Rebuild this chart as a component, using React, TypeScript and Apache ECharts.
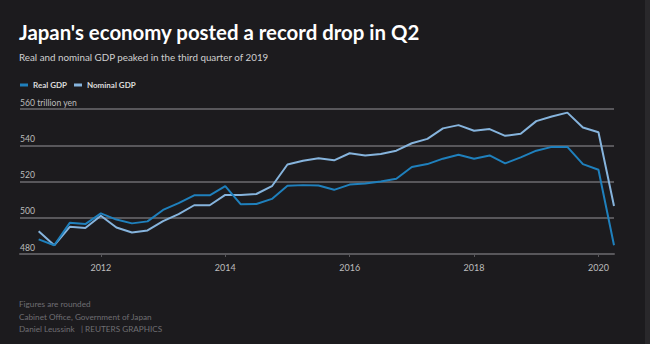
import React, { useEffect, useRef } from "react";
import * as echarts from "echarts";

const quarters = [
  "2011Q1","2011Q2","2011Q3","2011Q4",
  "2012Q1","2012Q2","2012Q3","2012Q4",
  "2013Q1","2013Q2","2013Q3","2013Q4",
  "2014Q1","2014Q2","2014Q3","2014Q4",
  "2015Q1","2015Q2","2015Q3","2015Q4",
  "2016Q1","2016Q2","2016Q3","2016Q4",
  "2017Q1","2017Q2","2017Q3","2017Q4",
  "2018Q1","2018Q2","2018Q3","2018Q4",
  "2019Q1","2019Q2","2019Q3","2019Q4",
  "2020Q1","2020Q2",
];

const realGDP = [
  488.1, 484.8, 497.2, 496.5,
  502.4, 499.0, 496.9, 498.0,
  504.3, 508.1, 512.4, 512.4,
  517.4, 507.4, 507.6, 510.4,
  517.6, 518.0, 517.8, 515.4,
  518.3, 518.9, 520.0, 521.5,
  528.0, 529.6, 532.6, 534.8,
  532.6, 534.4, 530.0, 533.3,
  537.0, 539.1, 539.1, 529.6,
  526.5, 484.8,
];

const nominalGDP = [
  492.6, 484.8, 495.0, 494.3,
  501.1, 494.6, 491.9, 493.0,
  498.1, 502.0, 506.9, 506.9,
  512.6, 512.6, 513.1, 517.4,
  529.4, 531.5, 532.8, 531.7,
  535.6, 534.4, 535.2, 537.0,
  541.1, 543.5, 549.3, 551.1,
  548.0, 548.9, 545.2, 546.3,
  553.3, 555.9, 558.0, 549.8,
  547.2, 506.5,
];

const yearTicks = [2012, 2014, 2016, 2018, 2020];
const yTicks = [480, 500, 520, 540, 560];

const TITLE = "Japan's economy posted a record drop in Q2";
const SUBTITLE = "Real and nominal GDP peaked in the third quarter of 2019";
const FOOTNOTES = [
  "Figures are rounded",
  "Cabinet Office, Government of Japan",
  "Daniel Leussink   | REUTERS GRAPHICS",
];

const BG = "#1c1b1e";
const REAL_COLOR = "#1f80bd";
const NOMINAL_COLOR = "#86b4dd";
const GRID_COLOR = "#58575b";
const FONT = "Lato, 'Noto Sans', sans-serif";

function quarterToX(q: string): number {
  const y = parseInt(q.slice(0, 4), 10);
  const n = parseInt(q.slice(5), 10);
  return y + (n - 1) / 4;
}

export default function App() {
  const ref = useRef<HTMLDivElement | null>(null);

  useEffect(() => {
    document.body.style.margin = "0";
    document.body.style.background = BG;
    if (!ref.current) return;
    const chart = echarts.init(ref.current, undefined, { renderer: "svg" });
    const xs = quarters.map(quarterToX);
    chart.setOption({
      animation: false,
      backgroundColor: BG,
      textStyle: { fontFamily: FONT },
      grid: { left: 20, right: 36, top: 109, bottom: 90, containLabel: false },
      legend: {
        left: 15,
        top: 76,
        itemWidth: 8,
        itemHeight: 3,
        itemGap: 7,
        icon: "rect",
        textStyle: { color: "#dcdcdc", fontSize: 8, fontWeight: "bold", fontFamily: FONT },
        data: [
          { name: "Real GDP", itemStyle: { color: REAL_COLOR } },
          { name: "Nominal GDP", itemStyle: { color: NOMINAL_COLOR } },
        ],
        selectedMode: false,
      },
      xAxis: {
        type: "value",
        min: 2010.7,
        max: 2020.25,
        splitLine: { show: false },
        axisLine: { show: true, lineStyle: { color: GRID_COLOR, width: 2 } },
        axisTick: {
          show: true,
          length: 3,
          customValues: yearTicks,
          lineStyle: { color: GRID_COLOR, width: 1 },
        },
        axisLabel: {
          customValues: yearTicks,
          color: "#bdbdbd",
          fontSize: 9,
          margin: 9,
          fontFamily: FONT,
          formatter: (v: number) => String(Math.round(v)),
        },
      },
      yAxis: {
        type: "value",
        min: 480,
        max: 560,
        interval: 20,
        axisLine: { show: false },
        axisTick: { show: false },
        splitLine: { show: true, lineStyle: { color: GRID_COLOR, width: 2 } },
        axisLabel: {
          inside: true,
          margin: 0,
          align: "left",
          verticalAlign: "bottom",
          padding: [0, 0, 2, 0],
          color: "#bdbdbd",
          fontSize: 8.6,
          fontFamily: FONT,
          customValues: yTicks,
          formatter: (v: number) => (v === 560 ? "560 trillion yen" : String(v)),
        },
      },
      series: [
        {
          name: "Nominal GDP",
          type: "line",
          data: xs.map((x, i) => [x, nominalGDP[i]]),
          symbol: "none",
          lineStyle: { color: NOMINAL_COLOR, width: 2 },
          itemStyle: { color: NOMINAL_COLOR },
        },
        {
          name: "Real GDP",
          type: "line",
          data: xs.map((x, i) => [x, realGDP[i]]),
          symbol: "none",
          lineStyle: { color: REAL_COLOR, width: 2 },
          itemStyle: { color: REAL_COLOR },
        },
      ],
      graphic: [
        {
          type: "rect",
          right: 0,
          top: 0,
          shape: { width: 5, height: 344 },
          style: { fill: "#29282b" },
          silent: true,
        },
        {
          type: "text",
          x: 19,
          y: 32,
          style: {
            text: TITLE,
            fill: "#ffffff",
            font: `bold 20.4px ${FONT}`,
            verticalAlign: "middle",
          },
        },
        {
          type: "text",
          x: 19,
          y: 57,
          style: {
            text: SUBTITLE,
            fill: "#d0d0d0",
            font: `9.8px ${FONT}`,
            verticalAlign: "middle",
          },
        },
        ...FOOTNOTES.map((t, i) => ({
          type: "text",
          x: 19,
          y: 304 + i * 12.5,
          style: {
            text: t,
            fill: "#6f6e73",
            font: `8.2px ${FONT}`,
            verticalAlign: "middle",
          },
        })),
      ],
    });
    return () => chart.dispose();
  }, []);

  return (
    <div
      ref={ref}
      style={{ position: "absolute", left: 0, top: 0, width: 650, height: 344 }}
    />
  );
}
